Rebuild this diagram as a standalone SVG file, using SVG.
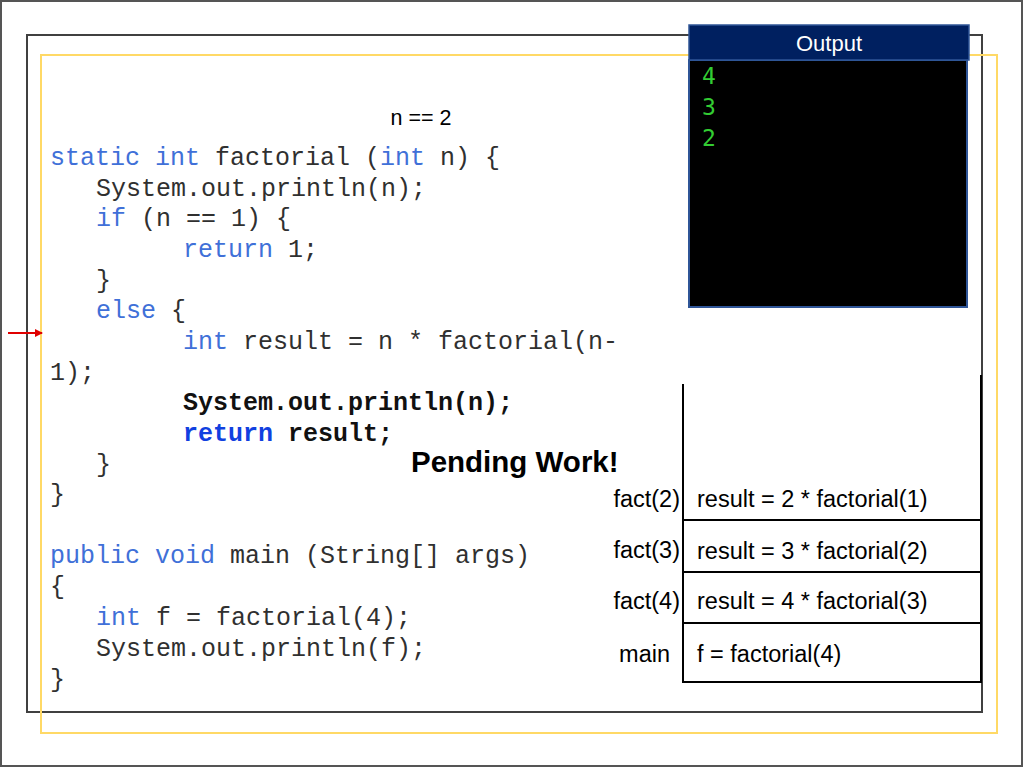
<svg xmlns="http://www.w3.org/2000/svg" width="1024" height="768" viewBox="0 0 1024 768">
<defs>
<style>
.code{font-family:"Liberation Mono","Courier New",monospace;font-size:25px;fill:#303030;}
.kw{fill:#4070D8;}
.kwb{fill:#1040E0;font-weight:bold;}
.b{font-weight:bold;fill:#111;}
.sans{font-family:"Liberation Sans",Arial,sans-serif;fill:#000;}
.stk{font-family:"Liberation Sans",Arial,sans-serif;font-size:23.5px;fill:#000;}
.line{stroke:#000;stroke-width:2;fill:none;}
.out{font-family:"DejaVu Sans Mono",monospace;font-size:23px;fill:#33CC33;}
</style>
<marker id="arr" markerWidth="8" markerHeight="8" refX="7" refY="4" orient="auto" markerUnits="userSpaceOnUse">
<path d="M0,0 L8,4 L0,8 Z" fill="#E00000"/>
</marker>
</defs>
<rect width="1024" height="768" fill="#fff"/>
<rect x="1" y="1" width="1021" height="765" fill="none" stroke="#555" stroke-width="2"/>
<rect x="27" y="35" width="955" height="677" fill="none" stroke="#404040" stroke-width="2"/>
<rect x="41" y="55" width="956" height="678" fill="none" stroke="#FFD966" stroke-width="2"/>

<g id="output">
<rect x="689" y="60" width="278" height="247" fill="#000" stroke="#2F5597" stroke-width="2"/>
<rect x="689" y="25" width="280" height="35" fill="#002060" stroke="#2F5597" stroke-width="1.5"/>
<text x="829" y="51" text-anchor="middle" class="sans" font-size="22" style="fill:#fff">Output</text>
<text x="702" y="84" class="out">4</text>
<text x="702" y="115" class="out">3</text>
<text x="702" y="146" class="out">2</text>
</g>

<g id="condition">
<text x="421" y="125" text-anchor="middle" class="sans" font-size="21.5">n == 2</text>
</g>

<g id="code">
<text class="code" x="50" y="165"><tspan class="kw">static</tspan> <tspan class="kw">int</tspan> factorial (<tspan class="kw">int</tspan> n) {</text>
<text class="code" x="96" y="195.7">System.out.println(n);</text>
<text class="code" x="96" y="226.3"><tspan class="kw">if</tspan> (n == 1) {</text>
<text class="code" x="183" y="257"><tspan class="kw">return</tspan> 1;</text>
<text class="code" x="96" y="287.6">}</text>
<text class="code" x="96" y="318.3"><tspan class="kw">else</tspan> {</text>
<text class="code" x="183" y="349"><tspan class="kw">int</tspan> result = n * factorial(n-</text>
<text class="code" x="50" y="379.6">1);</text>
<text class="code b" x="183" y="410.3">System.out.println(n);</text>
<text class="code b" x="183" y="441"><tspan class="kwb">return</tspan> result;</text>
<text class="code" x="96" y="471.6">}</text>
<text class="code" x="50" y="502.3">}</text>
<text class="code" x="50" y="563"><tspan class="kw">public</tspan> <tspan class="kw">void</tspan> main (String[] args)</text>
<text class="code" x="50" y="594">{</text>
<text class="code" x="96" y="625"><tspan class="kw">int</tspan> f = factorial(4);</text>
<text class="code" x="96" y="656">System.out.println(f);</text>
<text class="code" x="50" y="687">}</text>
</g>

<g id="pending">
<text x="411" y="472" class="sans" font-size="29.5" font-weight="bold">Pending Work!</text>
</g>

<g id="connectors">
<line x1="8" y1="333" x2="42" y2="333" stroke="#E00000" stroke-width="2" marker-end="url(#arr)"/>
</g>

<g id="stack">
<line class="line" x1="683" y1="384" x2="683" y2="683"/>
<line class="line" x1="981" y1="375" x2="981" y2="683" stroke-width="3"/>
<line class="line" x1="683" y1="520" x2="981" y2="520"/>
<line class="line" x1="683" y1="572" x2="981" y2="572"/>
<line class="line" x1="683" y1="623" x2="981" y2="623"/>
<line class="line" x1="683" y1="682" x2="981" y2="682"/>
</g>

<g id="frame-fact2">
<text class="stk" x="680" y="507" text-anchor="end">fact(2)</text>
<text class="stk" x="697" y="507">result = 2 * factorial(1)</text>
</g>
<g id="frame-fact3">
<text class="stk" x="680" y="558" text-anchor="end">fact(3)</text>
<text class="stk" x="697" y="559">result = 3 * factorial(2)</text>
</g>
<g id="frame-fact4">
<text class="stk" x="680" y="609" text-anchor="end">fact(4)</text>
<text class="stk" x="697" y="609">result = 4 * factorial(3)</text>
</g>
<g id="frame-main">
<text class="stk" x="670" y="662" text-anchor="end">main</text>
<text class="stk" x="697" y="662">f = factorial(4)</text>
</g>
</svg>
